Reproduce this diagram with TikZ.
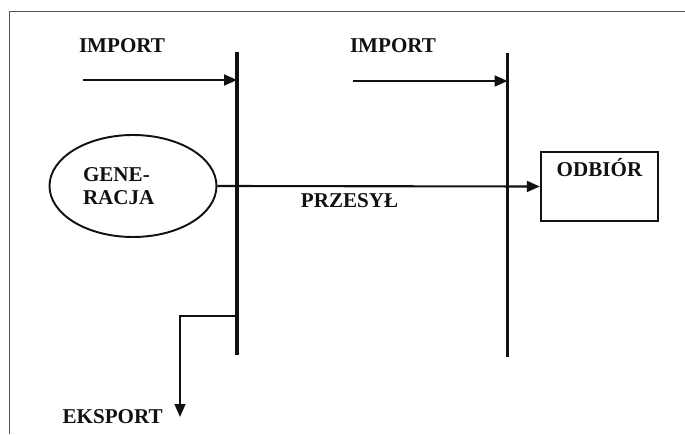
\documentclass[tikz,border=0pt]{standalone}
\usepackage{fontspec}
\setmainfont{Liberation Serif}
\usetikzlibrary{positioning,arrows.meta,shapes.geometric,calc}
\definecolor{ink}{HTML}{111111}
\definecolor{faint}{HTML}{555555}
\tikzset{
  lbl/.style  ={font=\fontsize{12}{13}\selectfont\bfseries, text=ink, inner sep=0pt},
  gen/.style  ={ellipse, draw=ink, line width=1.1pt, minimum width=3.34cm, minimum height=2.04cm, inner sep=0pt, text width=2cm, align=left},
  odbox/.style={draw=ink, line width=1.4pt, minimum width=2.34cm, inner xsep=0pt, inner ysep=.18cm, text height=.3cm, text depth=.72cm},
  bar/.style  ={draw=ink, line width=2pt},
  ln/.style   ={draw=ink, line width=1.2pt, -{Triangle[length=2.6mm,width=2.2mm]}},
  lnt/.style  ={draw=ink, line width=.7pt, -{Triangle[length=2.6mm,width=2.2mm]}},
  frm/.style  ={draw=faint, line width=.5pt},
}
\begin{document}
\begin{tikzpicture}
    \useasboundingbox (0,0) rectangle (13.7,8.68);
    % ramka
    \coordinate (fr0) at (0.18,0);
    \coordinate (fr1) at (13.7,8.46);
    \draw[frm] (fr0) |- (fr1);

    % szyny
    \coordinate (b1t) at (4.74,7.64);
    \coordinate (b1b) at (4.74,1.58);
    \coordinate (b2t) at (10.15,7.62);
    \coordinate (b2b) at (10.15,1.54);
    \draw[bar] (b1t) -- (b1b);
    \draw[bar] (b2t) -- (b2b);

    \node[lbl] (imp1) at (2.44,7.76) {IMPORT};
    \node[lbl] (imp2) at (7.86,7.76) {IMPORT};
    \coordinate (i1) at (1.66,7.08);
    \coordinate (i2) at (7.06,7.06);

    \node[lbl,gen] (gen) at (2.66,4.96) {GENE-\\RACJA};
    \node[lbl,odbox] (odb) at (11.99,4.95) {ODBIÓR};

    \coordinate (ex) at (4.74,2.36);
    \coordinate (ekt) at (3.6,0.34);
    \node[lbl,left=0.34cm of ekt] (eks) {EKSPORT};

    \draw[ln] (i1) -- (i1 -| b1t);
    \draw[ln] (i2) -- (i2 -| b2t);
    \draw[ln] (gen.east) -- node[lbl,below=.12cm,pos=.41]{PRZESYŁ} (odb.west);
    \draw[lnt] (ex) -| (ekt);
  \end{tikzpicture}
\end{document}
